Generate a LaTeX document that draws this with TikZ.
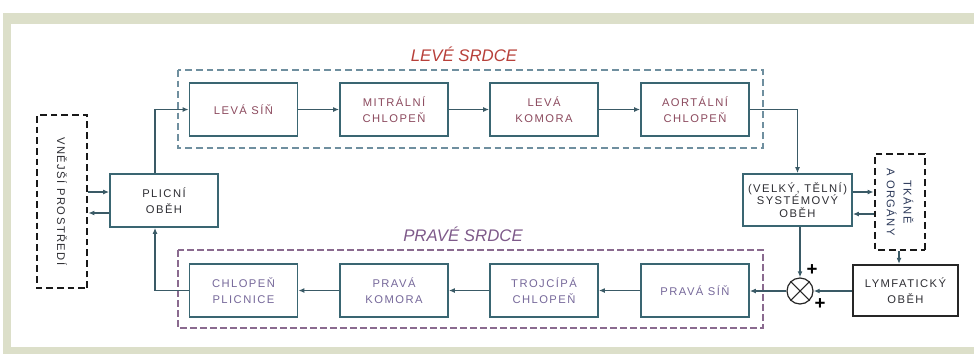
\documentclass[tikz,border=0pt]{standalone}
\usepackage{fontspec}
\setmainfont{Liberation Sans}
\newfontfamily\bxfont[LetterSpace=13]{Liberation Sans}
\usetikzlibrary{arrows.meta,shapes.geometric}
\definecolor{band}{HTML}{DCDFC9}
\definecolor{boxc}{HTML}{3A6672}
\definecolor{connc}{HTML}{3A5A66}
\definecolor{toptxt}{HTML}{8C4A5E}
\definecolor{bottxt}{HTML}{76689A}
\definecolor{darktxt}{HTML}{2E2E33}
\definecolor{tkc}{HTML}{2D3A5A}
\definecolor{levc}{HTML}{B8403A}
\definecolor{pravc}{HTML}{7E5A8A}
\definecolor{levframe}{HTML}{6F8F9F}
\definecolor{pravframe}{HTML}{8A6A8F}
\begin{document}
\begin{tikzpicture}[x=0.75pt,y=-0.75pt,
  box/.style={draw=boxc, line width=1.2pt, minimum width=81pt, minimum height=39.75pt,
    inner sep=0pt, align=center, font=\bxfont\fontsize{8.4}{12}\selectfont},
  topt/.style={box, text=toptxt},
  bott/.style={box, text=bottxt},
  blk/.style={box, draw=black!85, line width=1.6pt, text=darktxt},
  ext/.style={draw=black!90, line width=2pt, dash pattern=on 5pt off 3pt, align=center,
    font=\bxfont\fontsize{8.4}{12.5}\selectfont, rotate=-90, inner sep=0pt, text=darktxt},
  conn/.style={draw=connc, line width=0.9pt, -{Latex[length=4.5pt,width=3.6pt]}},
  heart/.style={font=\itshape\fontsize{12.6}{13}\selectfont, inner sep=0pt},
  plus/.style={font=\bfseries\fontsize{14}{14}\selectfont, inner sep=0pt}
]
\useasboundingbox (0,0) rectangle (974,354);
\fill[white] (0,0) rectangle (974,354);
\fill[band] (3,13) rectangle (974,354);
\fill[white] (11,24) rectangle (974,347);

% heart frames
\draw[levframe, line width=0.9pt, dash pattern=on 5pt off 3pt] (178,70) rectangle (763,148);
\draw[pravframe, line width=1.5pt, dash pattern=on 5pt off 2.5pt] (178,250) rectangle (763,328);
\node[heart, text=levc] (lsr) at (464,54) {LEVÉ SRDCE};
\node[heart, text=pravc] (psr) at (463,234) {PRAVÉ SRDCE};

% boxes
\node[topt] (ls) at (243.5,109.5) {LEVÁ SÍŇ};
\node[topt] (mc) at (394,109.5) {MITRÁLNÍ\\CHLOPEŇ};
\node[topt] (lk) at (544,109.5) {LEVÁ\\KOMORA};
\node[topt] (ac) at (695,109.5) {AORTÁLNÍ\\CHLOPEŇ};
\node[bott] (cp) at (243.5,290.5) {CHLOPEŇ\\PLICNICE};
\node[bott] (pk) at (394,290.5) {PRAVÁ\\KOMORA};
\node[bott] (tc) at (544,290.5) {TROJCÍPÁ\\CHLOPEŇ};
\node[bott] (ps) at (695,290.5) {PRAVÁ SÍŇ};
\node[box, text=darktxt] (po) at (164,200.5) {PLICNÍ\\OBĚH};
\node[box, text=darktxt, minimum width=81.75pt, minimum height=39pt,
  font=\bxfont\fontsize{8.4}{9.6}\selectfont] (so) at (797.5,200) {(VELKÝ, TĚLNÍ)\\SYSTÉMOVÝ\\OBĚH};
\node[blk, minimum width=78.75pt, minimum height=38.25pt] (ly) at (905.5,290.5) {LYMFATICKÝ\\OBĚH};
\node[ext, minimum width=129.75pt, minimum height=37.5pt] (vp) at (62,201.5) {VNĚJŠÍ PROSTŘEDÍ};
\node[ext, minimum width=72pt, minimum height=37.5pt, text=tkc] (to) at (900,202) {TKÁNĚ\\A ORGÁNY};

% summation
\node[circle, draw=black!85, line width=0.9pt, minimum size=19.5pt, inner sep=0pt] (sum) at (800,291) {};
\draw[black!85, line width=0.8pt] (sum.north east) -- (sum.south west) (sum.north west) -- (sum.south east);
\node[plus] (p1) at (812,270) {+};
\node[plus] (p2) at (820,304) {+};

% connectors
\draw[conn] (vp.north |- 0,192) -- (po.west |- 0,192);
\draw[conn] (po.west |- 0,213) -- (vp.north |- 0,213);
\draw[conn] (po.north -| 155,0) |- (ls.west);
\draw[conn] (cp.west) -| (po.south -| 155,0);
\draw[conn] (ls) -- (mc);
\draw[conn] (mc) -- (lk);
\draw[conn] (lk) -- (ac);
\draw[conn] (ac.east) -| (so.north);
\draw[conn] (so.east |- 0,192) -- (to.south |- 0,192);
\draw[conn] (to.south |- 0,214) -- (so.east |- 0,214);
\draw[conn] (to.east -| 899,0) -- (ly.north -| 899,0);
\draw[conn] (so.south -| sum.north) -- (sum.north);
\draw[conn] (ly.west |- sum.east) -- (sum.east);
\draw[conn] (sum.west) -- (ps.east |- sum.west);
\draw[conn] (ps) -- (tc);
\draw[conn] (tc) -- (pk);
\draw[conn] (pk) -- (cp);
\end{tikzpicture}
\end{document}
